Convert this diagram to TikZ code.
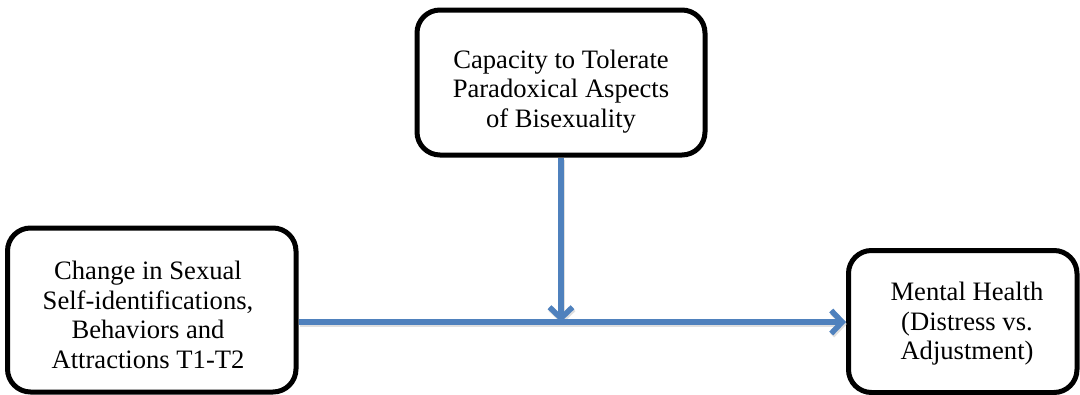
\documentclass[tikz,border=0pt]{standalone}
\usepackage{fontspec}
\setmainfont{Liberation Serif}
\usetikzlibrary{arrows.meta}
\definecolor{arrowblue}{HTML}{4F81BD}
\begin{document}
\begin{tikzpicture}[x=1pt,y=-1pt,
  stagebox/.style={draw=black, line width=5pt, rounded corners=23pt, fill=white,
    inner sep=0pt},
  boxtext/.style={align=center, inner sep=0pt,
    font=\fontsize{26.6}{29.5}\selectfont},
  link/.style={draw=arrowblue, line width=5.5pt,
    -{Straight Barb[length=11pt,width=23pt,line width=5.5pt]}},
  linkshade/.style={draw=black!25, line width=5.5pt, opacity=0.5,
    -{Straight Barb[length=11pt,width=23pt,line width=5.5pt]}}]
  \useasboundingbox (0,0) rectangle (1080,394);

  % boxes
  \node[stagebox, minimum width=288pt, minimum height=145pt] (mod) at (561,82.5) {};
  \node[stagebox, minimum width=288.5pt, minimum height=164pt] (pred) at (151.75,310) {};
  \node[stagebox, minimum width=228.5pt, minimum height=142pt] (out) at (962.75,321.5) {};

  % box texts
  \node[boxtext] (modtext) at (561,91.5)
    {Capacity to Tolerate\\Paradoxical Aspects\\of Bisexuality};
  \node[boxtext] (predtext) at (148,315)
    {Change in Sexual\\Self-identifications,\\Behaviors and\\Attractions T1-T2};
  \node[boxtext] (outtext) at (967,324)
    {Mental Health\\(Distress vs.\\Adjustment)};

  % connectors, with a faint shadow beneath
  \coordinate (junction) at (561,322);
  \draw[linkshade, transform canvas={xshift=1pt,yshift=-2pt}]
    (pred.east |- junction) -- (out.west |- junction);
  \draw[linkshade, transform canvas={xshift=1pt,yshift=-2pt}]
    (mod.south) -- (junction);
  \draw[link] (pred.east |- junction) -- (out.west |- junction);
  \draw[link] (mod.south) -- (junction);
\end{tikzpicture}
\end{document}
